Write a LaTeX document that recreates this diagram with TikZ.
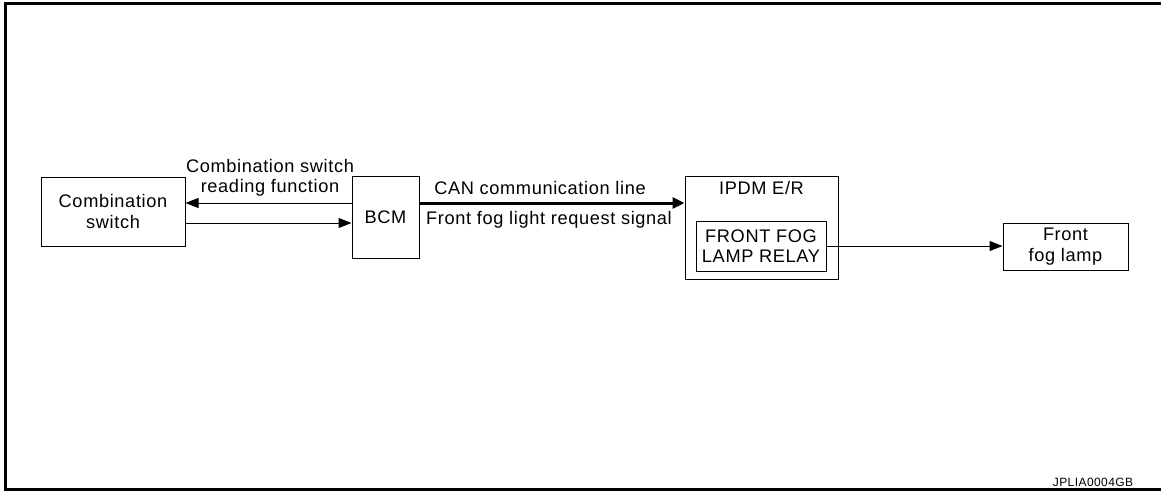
\documentclass[tikz,border=0pt]{standalone}
\usepackage{fontspec}
\setmainfont[LetterSpace=3.5]{Liberation Sans}
\usetikzlibrary{arrows.meta}
\begin{document}
\begin{tikzpicture}[x=1pt,y=-1pt]
    % Define styles for blocks, labels and signal lines
    \tikzstyle{block}=[draw,line width=1pt,align=center,inner sep=0pt,font=\fontsize{18.2}{20.5}\selectfont]
    \tikzstyle{lbl}=[align=center,inner sep=0pt,font=\fontsize{18.2}{20.5}\selectfont]
    \tikzstyle{sig}=[line width=1pt,-{Triangle[length=13pt,width=10pt]}]
    \useasboundingbox (0,0) rectangle (1161,491);

    % Frame
    \draw[line width=3pt] (1161,3.5) -- (5.5,3.5) -- (5.5,489.5) -- (1161,489.5);

    % Blocks
    \node[block,minimum width=144,minimum height=69] (combsw) at (113,211.5) {Combination\\switch};
    \node[block,minimum width=67,minimum height=82] (bcm) at (385.5,217) {BCM};
    \node[block,minimum width=153,minimum height=103] (ipdm) at (761.5,227.5) {};
    \node[lbl,anchor=north] (ipdmlbl) at ([yshift=-6]ipdm.north) {IPDM E/R};
    \node[block,minimum width=130,minimum height=50] (relay) at (761,246) {FRONT FOG\\LAMP RELAY};
    \node[block,minimum width=125,minimum height=47] (lamp) at (1065.5,246.5) {Front\\fog lamp};

    % Signal lines
    \draw[sig] (bcm.west |- 0,203) -- (combsw.east |- 0,203);
    \draw[sig] (combsw.east |- 0,223) -- (bcm.west |- 0,223);
    \draw[sig,line width=3pt,-{Triangle[length=12pt,width=11pt]}] (bcm.east |- 0,203) -- (ipdm.west |- 0,203);
    \draw[sig] (relay.east) -- (lamp.west |- relay.east);

    % Line labels
    \node[lbl] (readlbl) at (270,178) {Combination switch\\reading function};
    \node[lbl] (canlbl) at (540,188) {CAN communication line};
    \node[lbl,anchor=west] (reqlbl) at (426,220) {Front fog light request signal};
    \node[inner sep=0pt,font=\fontsize{12}{13}\selectfont] (code) at (1093,482) {JPLIA0004GB};
\end{tikzpicture}
\end{document}
